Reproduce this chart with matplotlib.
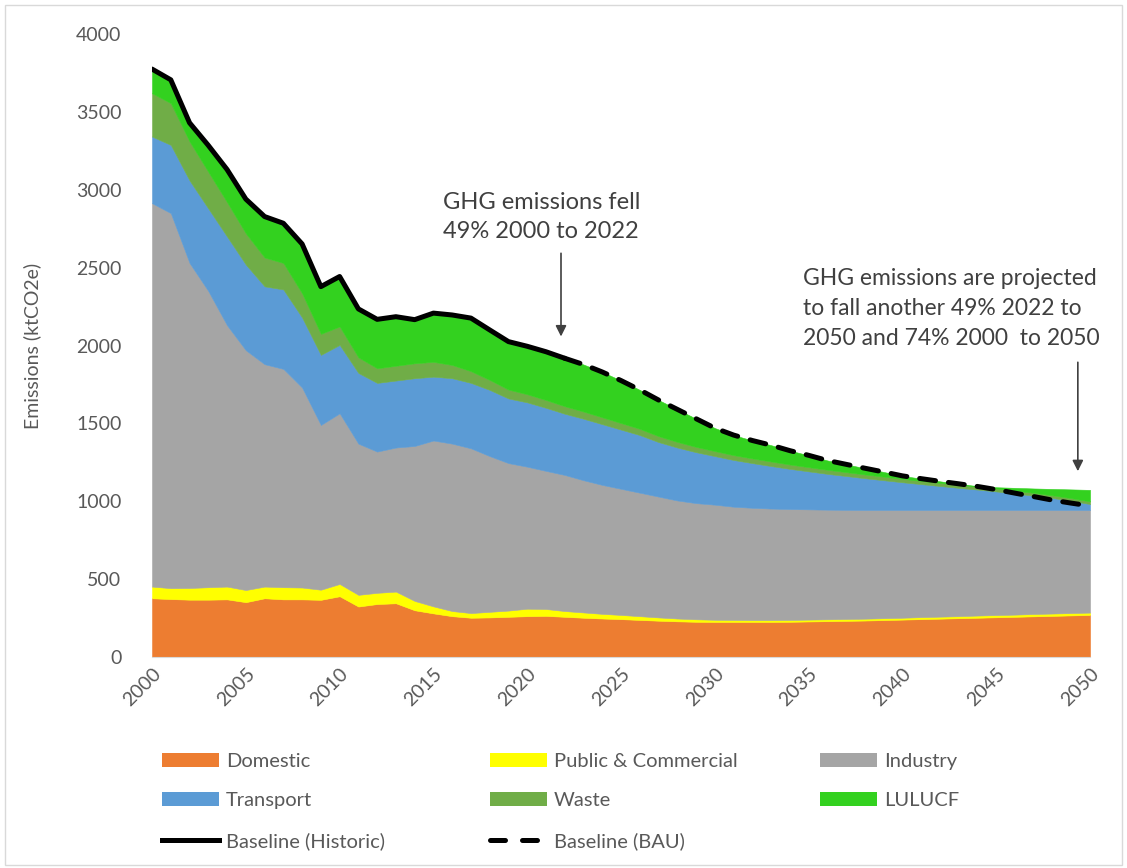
import numpy as np
import matplotlib
matplotlib.use("Agg")
from matplotlib import pyplot as plt
from matplotlib.patches import Patch, Rectangle
from matplotlib.lines import Line2D

plt.rcParams['font.family'] = ['Lato', 'DejaVu Sans']

# 연도 (2000-2050)
years = np.arange(2000, 2051)

# 부문별 배출량 (ktCO2e), 그림에서 읽은 값
domestic = [377, 372, 368, 368, 370, 352, 377, 370, 370, 367,
            390, 324, 340, 345, 300, 280, 262, 252, 254, 258,
            262, 264, 258, 252, 247, 243, 238, 233, 229, 226,
            225, 225, 225, 225, 226, 228, 230, 232, 234, 237,
            240, 243, 246, 249, 252, 255, 258, 261, 264, 267, 270]
public = [75, 70, 75, 80, 82, 78, 75, 78, 76, 65,
          79, 75, 72, 75, 60, 45, 33, 30, 36, 40,
          48, 44, 37, 34, 30, 27, 24, 21, 18, 16,
          14, 13, 12, 12, 12, 12, 12, 12, 12, 12,
          12, 13, 13, 13, 14, 14, 14, 15, 15, 15, 15]
industry = [2462, 2408, 2087, 1902, 1678, 1540, 1428, 1402, 1284, 1058,
            1096, 971, 907, 925, 995, 1065, 1075, 1058, 1000, 947,
            912, 887, 874, 849, 828, 810, 793, 776, 758, 746,
            739, 727, 721, 716, 712, 708, 704, 701, 698, 695,
            692, 688, 685, 682, 678, 675, 672, 668, 665, 662, 659]
transport = [428, 438, 530, 530, 570, 550, 500, 510, 450, 450,
             439, 454, 441, 430, 435, 410, 420, 420, 425, 415,
             413, 405, 393, 395, 390, 380, 370, 350, 340, 327,
             312, 300, 287, 273, 258, 244, 230, 217, 204, 191,
             178, 166, 154, 142, 131, 119, 106, 92, 77, 59, 38]
waste = [278, 268, 250, 235, 220, 200, 185, 170, 155, 135,
         118, 100, 94, 95, 96, 95, 85, 75, 64, 57,
         52, 50, 48, 46, 44, 42, 40, 38, 36, 34,
         32, 31, 30, 29, 28, 27, 26, 25, 24, 23,
         22, 21, 20, 20, 19, 19, 18, 18, 17, 17, 17]
lulucf = [155, 150, 120, 170, 210, 220, 263, 255, 317, 303,
          321, 311, 314, 315, 280, 313, 321, 341, 321, 308,
          308, 310, 308, 302, 291, 273, 250, 232, 209, 181,
          148, 129, 115, 105, 89, 76, 60, 50, 40, 30,
          19, 14, 10, 6, 3, 8, 18, 28, 41, 56, 74]

# 기준선 (과거 실적 / BAU)
hist_years = np.arange(2000, 2023)
baseline_hist = [3775, 3706, 3430, 3285, 3130, 2940, 2828, 2785, 2652, 2378,
                 2443, 2235, 2168, 2185, 2166, 2208, 2196, 2176, 2100, 2025,
                 1995, 1960, 1918]
bau_years = np.arange(2022, 2051)
baseline_bau = [1918, 1878, 1830, 1775, 1715, 1650, 1590, 1530, 1470, 1425,
                1390, 1360, 1325, 1295, 1262, 1237, 1212, 1188, 1163, 1145,
                1128, 1112, 1095, 1075, 1052, 1030, 1007, 988, 970]

labels = ['Domestic', 'Public & Commercial', 'Industry', 'Transport', 'Waste', 'LULUCF']
colors = ['#ED7D31', '#FFFF00', '#A5A5A5', '#5B9BD5', '#70AD47', '#33D11F']
series = [domestic, public, industry, transport, waste, lulucf]

fig = plt.figure(figsize=(11.27, 8.68), dpi=100)
ax = fig.add_axes([0.1349, 0.2431, 0.8323, 0.7177])

# 누적 영역 그리기
bottom = np.zeros(len(years))
for vals, col in zip(series, colors):
    top = bottom + np.array(vals)
    ax.fill_between(years, bottom, top, facecolor=col, edgecolor=col, linewidth=0.4)
    bottom = top

ax.plot(hist_years, baseline_hist, color='black', linewidth=3.6, solid_capstyle='round')
ax.plot(bau_years, baseline_bau, color='black', linewidth=3.6, linestyle=(0, (3.2, 2.6)),
        dash_capstyle='round')

ax.set_xlim(2000, 2050)
ax.set_ylim(0, 4000)
ax.set_yticks(np.arange(0, 4001, 500))
ax.set_xticks(np.arange(2000, 2051, 5))
ax.tick_params(length=0, labelsize=14, labelcolor='#595959')
ax.tick_params(axis='y', pad=22)
ax.tick_params(axis='x', pad=6)
for lab in ax.get_xticklabels():
    lab.set_rotation(45)
    lab.set_ha('right')
    lab.set_va('top')
    lab.set_rotation_mode('anchor')
for s in ['top', 'right', 'left']:
    ax.spines[s].set_visible(False)
ax.spines['bottom'].set_color('#D9D9D9')
ax.set_ylabel('Emissions (ktCO2e)', fontsize=14, color='#595959')
ax.yaxis.set_label_coords(-0.118, 0.5)

# 주석
ax.text(2015.5, 2985, 'GHG emissions fell\n49% 2000 to 2022', fontsize=17,
        color='#404040', va='top', ha='left', linespacing=1.45)
ax.annotate('', xy=(2021.8, 2040), xytext=(2021.8, 2610),
            arrowprops=dict(arrowstyle='-|>', color='#404040', lw=1.2, mutation_scale=16))
ax.text(2034.7, 2500, 'GHG emissions are projected\nto fall another 49% 2022 to\n2050 and 74% 2000  to 2050',
        fontsize=16.5, color='#404040', va='top', ha='left', linespacing=1.55)
ax.annotate('', xy=(2049.35, 1175), xytext=(2049.35, 1910),
            arrowprops=dict(arrowstyle='-|>', color='#404040', lw=1.2, mutation_scale=16))

# 범례 (열마다 따로)
cols = [
    [Patch(facecolor=colors[0], label=labels[0]),
     Patch(facecolor=colors[3], label=labels[3]),
     Line2D([], [], color='black', lw=3.6, label='Baseline (Historic)')],
    [Patch(facecolor=colors[1], label=labels[1]),
     Patch(facecolor=colors[4], label=labels[4]),
     Line2D([], [], color='black', lw=3.6, linestyle=(0, (3.0, 3.4)), dash_capstyle='round',
            label='Baseline (BAU)')],
    [Patch(facecolor=colors[2], label=labels[2]),
     Patch(facecolor=colors[5], label=labels[5])],
]
xs = [0.144, 0.435, 0.728]
for hs, x in zip(cols, xs):
    leg = fig.legend(handles=hs, loc='upper left', bbox_to_anchor=(x, 0.133), frameon=False,
                     fontsize=14.5, handlelength=2.8, handleheight=0.7, handletextpad=0.35,
                     labelspacing=1.12, borderaxespad=0, borderpad=0)
    for t in leg.get_texts():
        t.set_color('#595959')

fig.add_artist(Rectangle((0.004, 0.004), 0.992, 0.99, transform=fig.transFigure,
                         fill=False, edgecolor='#D9D9D9', linewidth=1))

plt.savefig('out.png', dpi=100)
